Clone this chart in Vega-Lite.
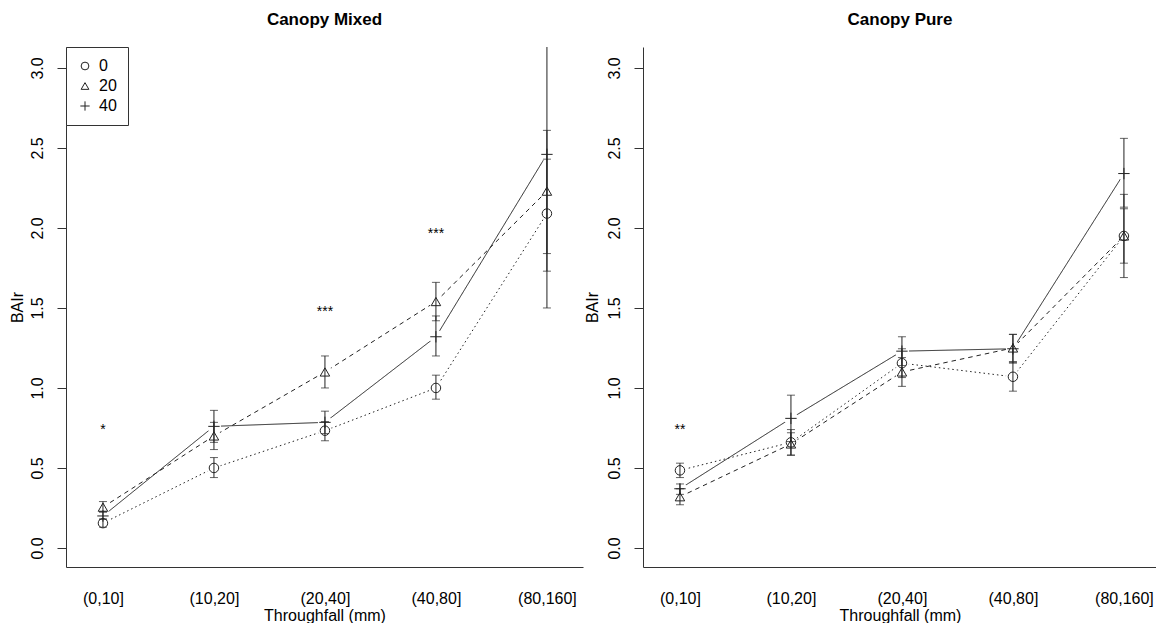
{
  "$schema": "https://vega.github.io/schema/vega-lite/v6.json",
  "padding": {"left": 8, "top": 10, "right": 0, "bottom": 0},
  "background": "white",
  "datasets": {
    "bai": [
      {"panel": "Mixed", "tf": 1, "group": "0", "mean": 0.155, "lo": 0.13, "hi": 0.18},
      {"panel": "Mixed", "tf": 1, "group": "20", "mean": 0.255, "lo": 0.225, "hi": 0.29},
      {"panel": "Mixed", "tf": 1, "group": "40", "mean": 0.2, "lo": 0.18, "hi": 0.225},
      {"panel": "Mixed", "tf": 2, "group": "0", "mean": 0.5, "lo": 0.44, "hi": 0.565},
      {"panel": "Mixed", "tf": 2, "group": "20", "mean": 0.7, "lo": 0.615, "hi": 0.785},
      {"panel": "Mixed", "tf": 2, "group": "40", "mean": 0.76, "lo": 0.66, "hi": 0.86},
      {"panel": "Mixed", "tf": 3, "group": "0", "mean": 0.733, "lo": 0.67, "hi": 0.79},
      {"panel": "Mixed", "tf": 3, "group": "20", "mean": 1.1, "lo": 1.0, "hi": 1.2},
      {"panel": "Mixed", "tf": 3, "group": "40", "mean": 0.785, "lo": 0.715, "hi": 0.855},
      {"panel": "Mixed", "tf": 4, "group": "0", "mean": 1.0, "lo": 0.93, "hi": 1.08},
      {"panel": "Mixed", "tf": 4, "group": "20", "mean": 1.54, "lo": 1.42, "hi": 1.66},
      {"panel": "Mixed", "tf": 4, "group": "40", "mean": 1.32, "lo": 1.2, "hi": 1.45},
      {"panel": "Mixed", "tf": 5, "group": "0", "mean": 2.09, "lo": 1.73, "hi": 2.43},
      {"panel": "Mixed", "tf": 5, "group": "20", "mean": 2.23, "lo": 1.84, "hi": 2.61},
      {"panel": "Mixed", "tf": 5, "group": "40", "mean": 2.46, "lo": 1.5, "hi": 3.42},
      {"panel": "Pure", "tf": 1, "group": "0", "mean": 0.485, "lo": 0.44, "hi": 0.53},
      {"panel": "Pure", "tf": 1, "group": "20", "mean": 0.32, "lo": 0.27, "hi": 0.37},
      {"panel": "Pure", "tf": 1, "group": "40", "mean": 0.37, "lo": 0.335, "hi": 0.4},
      {"panel": "Pure", "tf": 2, "group": "0", "mean": 0.66, "lo": 0.58, "hi": 0.74},
      {"panel": "Pure", "tf": 2, "group": "20", "mean": 0.65, "lo": 0.58, "hi": 0.72},
      {"panel": "Pure", "tf": 2, "group": "40", "mean": 0.81, "lo": 0.665, "hi": 0.955},
      {"panel": "Pure", "tf": 3, "group": "0", "mean": 1.155, "lo": 1.065, "hi": 1.245},
      {"panel": "Pure", "tf": 3, "group": "20", "mean": 1.1, "lo": 1.01, "hi": 1.19},
      {"panel": "Pure", "tf": 3, "group": "40", "mean": 1.23, "lo": 1.14, "hi": 1.32},
      {"panel": "Pure", "tf": 4, "group": "0", "mean": 1.07, "lo": 0.98, "hi": 1.16},
      {"panel": "Pure", "tf": 4, "group": "20", "mean": 1.25, "lo": 1.165, "hi": 1.335},
      {"panel": "Pure", "tf": 4, "group": "40", "mean": 1.245, "lo": 1.155, "hi": 1.335},
      {"panel": "Pure", "tf": 5, "group": "0", "mean": 1.95, "lo": 1.69, "hi": 2.21},
      {"panel": "Pure", "tf": 5, "group": "20", "mean": 1.95, "lo": 1.78, "hi": 2.12},
      {"panel": "Pure", "tf": 5, "group": "40", "mean": 2.34, "lo": 2.13, "hi": 2.56}
    ],
    "stars": [
      {"panel": "Mixed", "tf": 1, "mean": 0.74, "label": "*"},
      {"panel": "Mixed", "tf": 3, "mean": 1.475, "label": "***"},
      {"panel": "Mixed", "tf": 4, "mean": 1.96, "label": "***"},
      {"panel": "Pure", "tf": 1, "mean": 0.735, "label": "**"}
    ]
  },
  "config": {
    "view": {"stroke": null},
    "font": "Liberation Sans",
    "axis": {
      "labelFont": "Liberation Sans",
      "titleFont": "Liberation Sans",
      "labelFontSize": 16,
      "titleFontSize": 16,
      "titleFontWeight": "normal",
      "labelColor": "#000",
      "titleColor": "#000",
      "domainColor": "#333",
      "tickColor": "#333",
      "grid": false
    },
    "title": {"font": "Liberation Sans", "fontSize": 17, "fontWeight": "bold", "color": "#000", "offset": 18},
    "legend": {
      "strokeColor": "#333",
      "fillColor": "white",
      "padding": 11,
      "labelFont": "Liberation Sans",
      "labelFontSize": 16,
      "labelColor": "#000",
      "symbolSize": 60,
      "symbolStrokeWidth": 1,
      "symbolStrokeColor": "#222",
      "symbolFillColor": "transparent",
      "rowPadding": 4,
      "labelOffset": 6
    }
  },
  "hconcat": [
    {
      "title": "Canopy Mixed",
      "width": 517,
      "height": 520,
      "data": {"name": "bai"},
      "transform": [{"filter": "datum.panel === 'Mixed'"}],
      "encoding": {
        "x": {"field": "tf", "type": "quantitative", "scale": {"domain": [0.667, 5.325], "nice": false, "zero": false},
          "axis": {"values": [1, 2, 3, 4, 5], "labelExpr": "['','(0,10]','(10,20]','(20,40]','(40,80]','(80,160]'][datum.value]", "ticks": false, "labelPadding": 23, "labelFlush": false, "title": "Throughfall (mm)", "titlePadding": 1}},
        "y": {"field": "mean", "type": "quantitative", "scale": {"domain": [-0.119, 3.131], "nice": false, "zero": false},
          "axis": {"values": [0, 0.5, 1, 1.5, 2, 2.5, 3], "format": ".1f", "labelAngle": 270, "labelAlign": "center", "labelBaseline": "bottom", "tickSize": 9, "labelPadding": 12, "title": "BAIr", "titlePadding": 4}}
      },
      "layer": [
        {
          "mark": {"type": "line", "color": "#222", "strokeWidth": 1},
          "encoding": {
            "strokeDash": {"field": "group", "type": "nominal", "scale": {"domain": ["40", "20", "0"], "range": [[1, 0], [4.5, 4], [1.5, 3]]}, "legend": null}
          }
        },
        {
          "mark": {"type": "point", "shape": "circle", "filled": true, "color": "white", "size": 200, "opacity": 1, "strokeWidth": 0}
        },
        {
          "mark": {"type": "rule", "color": "#222", "strokeWidth": 1, "clip": true},
          "encoding": {"y": {"field": "lo", "type": "quantitative"}, "y2": {"field": "hi"}}
        },
        {
          "mark": {"type": "tick", "orient": "horizontal", "size": 8, "thickness": 1, "color": "#222", "clip": true},
          "encoding": {"y": {"field": "lo", "type": "quantitative"}}
        },
        {
          "mark": {"type": "tick", "orient": "horizontal", "size": 8, "thickness": 1, "color": "#222", "clip": true},
          "encoding": {"y": {"field": "hi", "type": "quantitative"}}
        },
        {
          "mark": {"type": "point", "filled": false, "color": "#222", "strokeWidth": 1, "opacity": 1, "size": 90},
          "encoding": {
            "shape": {"field": "group", "type": "nominal", "scale": {"domain": ["0", "20", "40"], "range": ["circle", "triangle-up", "M-1.2,0H1.2M0,-1.2V1.2"]}, "legend": {"title": null, "orient": "top-left", "offset": 0}}
          }
        },
        {
          "data": {"name": "stars"},
          "transform": [{"filter": "datum.panel === 'Mixed'"}],
          "mark": {"type": "text", "fontSize": 14, "color": "#000", "baseline": "middle", "align": "center"},
          "encoding": {"text": {"field": "label"}}
        }
      ]
    },
    {
      "title": "Canopy Pure",
      "width": 514,
      "height": 520,
      "data": {"name": "bai"},
      "transform": [{"filter": "datum.panel === 'Pure'"}],
      "encoding": {
        "x": {"field": "tf", "type": "quantitative", "scale": {"domain": [0.667, 5.298], "nice": false, "zero": false},
          "axis": {"values": [1, 2, 3, 4, 5], "labelExpr": "['','(0,10]','(10,20]','(20,40]','(40,80]','(80,160]'][datum.value]", "ticks": false, "labelPadding": 23, "labelFlush": false, "title": "Throughfall (mm)", "titlePadding": 1}},
        "y": {"field": "mean", "type": "quantitative", "scale": {"domain": [-0.119, 3.131], "nice": false, "zero": false},
          "axis": {"values": [0, 0.5, 1, 1.5, 2, 2.5, 3], "format": ".1f", "labelAngle": 270, "labelAlign": "center", "labelBaseline": "bottom", "tickSize": 9, "labelPadding": 12, "title": "BAIr", "titlePadding": 6}}
      },
      "layer": [
        {
          "mark": {"type": "line", "color": "#222", "strokeWidth": 1},
          "encoding": {
            "strokeDash": {"field": "group", "type": "nominal", "scale": {"domain": ["40", "20", "0"], "range": [[1, 0], [4.5, 4], [1.5, 3]]}, "legend": null}
          }
        },
        {
          "mark": {"type": "point", "shape": "circle", "filled": true, "color": "white", "size": 200, "opacity": 1, "strokeWidth": 0}
        },
        {
          "mark": {"type": "rule", "color": "#222", "strokeWidth": 1, "clip": true},
          "encoding": {"y": {"field": "lo", "type": "quantitative"}, "y2": {"field": "hi"}}
        },
        {
          "mark": {"type": "tick", "orient": "horizontal", "size": 8, "thickness": 1, "color": "#222", "clip": true},
          "encoding": {"y": {"field": "lo", "type": "quantitative"}}
        },
        {
          "mark": {"type": "tick", "orient": "horizontal", "size": 8, "thickness": 1, "color": "#222", "clip": true},
          "encoding": {"y": {"field": "hi", "type": "quantitative"}}
        },
        {
          "mark": {"type": "point", "filled": false, "color": "#222", "strokeWidth": 1, "opacity": 1, "size": 90},
          "encoding": {
            "shape": {"field": "group", "type": "nominal", "scale": {"domain": ["0", "20", "40"], "range": ["circle", "triangle-up", "M-1.2,0H1.2M0,-1.2V1.2"]}, "legend": null}
          }
        },
        {
          "data": {"name": "stars"},
          "transform": [{"filter": "datum.panel === 'Pure'"}],
          "mark": {"type": "text", "fontSize": 14, "color": "#000", "baseline": "middle", "align": "center"},
          "encoding": {"text": {"field": "label"}}
        }
      ]
    }
  ],
  "spacing": 60,
  "bounds": "flush",
  "resolve": {
    "scale": {"x": "independent", "y": "independent", "shape": "independent", "strokeDash": "independent"},
    "legend": {"shape": "independent", "strokeDash": "independent"}
  }
}
